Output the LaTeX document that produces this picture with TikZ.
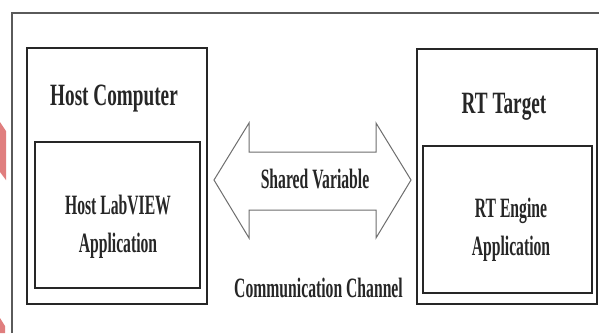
\documentclass[tikz,border=0pt]{standalone}
\usepackage{fontspec}
\newfontfamily\headfont[FakeStretch=0.62]{Liberation Serif Bold}
\newfontfamily\bodyfont[FakeStretch=0.56]{Liberation Serif Bold}
\usetikzlibrary{positioning}
\definecolor{pinkmark}{HTML}{E07E7E}
\definecolor{framegray}{HTML}{5A5A5A}
\definecolor{arrowgray}{HTML}{6E6E6E}
\tikzset{
  outerbox/.style={draw=black!85,line width=1.1pt,minimum width=180pt,inner sep=0pt},
  innerbox/.style={draw=black!85,line width=1.1pt,inner sep=0pt},
  headtext/.style={font=\headfont\fontsize{31}{36}\selectfont,text=black!85,inner sep=0pt},
  bodytext/.style={font=\bodyfont\fontsize{28}{38}\selectfont,text=black!85,inner sep=0pt,align=center}
}
\begin{document}
\begin{tikzpicture}[x=1pt,y=-1pt]
      \useasboundingbox (0,0) rectangle (599,333);
      \fill[white] (0,0) rectangle (599,333);
      % pink marks at the left edge
      \fill[pinkmark] (0,122) -- (6,131) -- (6,180) -- (0,172) -- cycle;
      \fill[pinkmark] (0,318) -- (5,326) -- (5,333) -- (0,333) -- cycle;
      % outer frame
      \draw[framegray,line width=1.3pt] (12,333) -- (12,13) -- (599,13);
      % boxes
      \node[outerbox,minimum height=256pt] (host) at (117,176) {};
      \node[innerbox,minimum width=165pt,minimum height=146pt] (hostapp) at (117.5,215) {};
      \node[outerbox,minimum height=255pt] (target) at (507,176.5) {};
      \node[innerbox,minimum width=169pt,minimum height=147pt] (rtapp) at (507.5,219.5) {};
      % texts
      \node[headtext,anchor=base] (hosttitle) at (114,105) {Host Computer};
      \node[headtext,anchor=base] (targettitle) at (504,113) {RT Target};
      \node[bodytext] (hostapptext) at (118,227) {Host LabVIEW\\Application};
      \node[bodytext] (rtapptext) at (511,230) {RT Engine\\Application};
      % shared variable arrow
      \draw[arrowgray,line width=1pt,line join=miter]
        (214,180) -- (249,123) -- (249,152) -- (376,152) -- (376,123) -- (411,180)
        -- (376,238) -- (376,210) -- (249,210) -- (249,238) -- cycle;
      \node[bodytext,anchor=base] (shared) at (315,188) {Shared Variable};
      \node[bodytext,anchor=base] (channel) at (318.5,297) {Communication Channel};
\end{tikzpicture}
\end{document}
